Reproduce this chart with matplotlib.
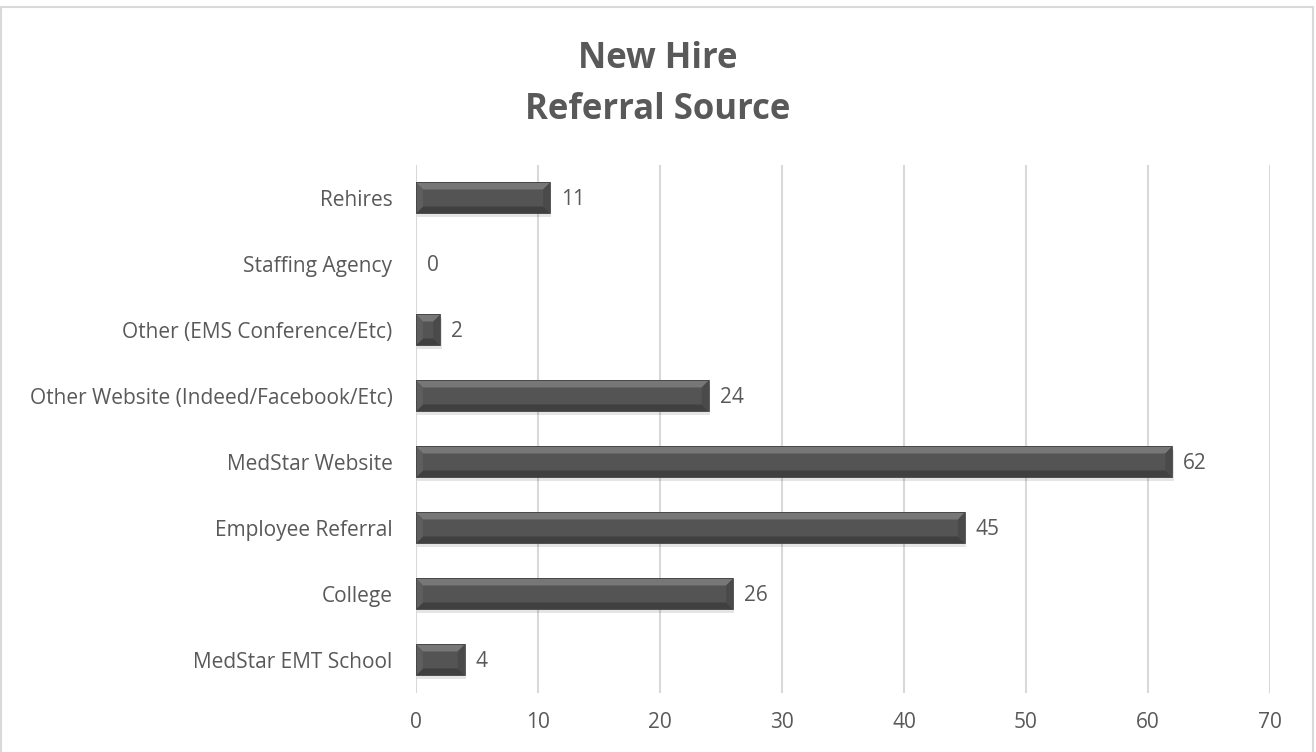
import matplotlib
matplotlib.use("Agg")
import matplotlib.pyplot as plt
from matplotlib.patches import Polygon, Rectangle
import numpy as np

# referral sources, bottom to top
sources = ["MedStar EMT School", "College", "Employee Referral", "MedStar Website",
           "Other Website (Indeed/Facebook/Etc)", "Other (EMS Conference/Etc)",
           "Staffing Agency", "Rehires"]
hires = [4, 26, 45, 62, 24, 2, 0, 11]
xticks = [0, 10, 20, 30, 40, 50, 60, 70]

text_color = "#595959"
plt.rcParams["font.family"] = ["Open Sans", "DejaVu Sans"]

fig = plt.figure(figsize=(13.16, 7.52), dpi=100)
ax = fig.add_axes([0.3161, 0.0785, 0.6489, 0.7021])

ypos = np.arange(len(sources))
bar_h = 0.47
bars = ax.barh(ypos, hires, height=bar_h, color="#545454", zorder=3)

ax.set_xlim(0, 70)
ax.set_ylim(-0.5, len(sources) - 0.5)

# bevel size in data units (~7 px)
bx = 7 / (0.6489 * 1316) * 70
by = 7 / (0.7021 * 752) * len(sources)
sy = 4 / (0.7021 * 752) * len(sources)
for b in bars:
    x0, y0 = b.get_x(), b.get_y()
    w, h = b.get_width(), b.get_height()
    if w <= 0:
        continue
    x1, y1 = x0 + w, y0 + h
    ex = min(bx, w / 2)
    # soft shadow below the bar
    ax.add_patch(Rectangle((x0 + 0.1, y0 - sy), w, h, color="#000000", alpha=0.10,
                           lw=0, zorder=2))
    # y1 is the top edge, y0 the bottom edge
    top = Polygon([(x0, y1), (x1, y1), (x1 - ex, y1 - by), (x0 + ex, y1 - by)],
                  closed=True, color="#777777", lw=0, zorder=4)
    bottom = Polygon([(x0, y0), (x1, y0), (x1 - ex, y0 + by), (x0 + ex, y0 + by)],
                     closed=True, color="#404040", lw=0, zorder=4)
    left = Polygon([(x0, y1), (x0 + ex, y1 - by), (x0 + ex, y0 + by), (x0, y0)],
                   closed=True, color="#5e5e5e", lw=0, zorder=4)
    right = Polygon([(x1, y1), (x1 - ex, y1 - by), (x1 - ex, y0 + by), (x1, y0)],
                    closed=True, color="#4a4a4a", lw=0, zorder=4)
    for p in (top, bottom, left, right):
        ax.add_patch(p)
    ax.add_patch(Rectangle((x0, y0), w, h, fill=False, ec="#444444", lw=0.6, zorder=5))

for y, v in zip(ypos, hires):
    ax.text(v + 0.9, y - 0.03, str(v), va="center", ha="left", fontsize=15,
            color=text_color)

ax.set_yticks(ypos)
ax.set_yticklabels(sources)
ax.set_xticks(xticks)
ax.tick_params(axis="y", length=0, pad=17, labelsize=15, labelcolor=text_color)
ax.tick_params(axis="x", length=0, pad=14, labelsize=15, labelcolor=text_color)
ax.grid(axis="x", color="#d9d9d9", lw=1.5, zorder=0)
ax.set_axisbelow(True)
for s in ax.spines.values():
    s.set_visible(False)

fig.text(0.5, 0.922, "New Hire", ha="center", va="center", fontsize=25,
         fontweight="bold", color=text_color)
fig.text(0.5, 0.854, "Referral Source", ha="center", va="center", fontsize=25,
         fontweight="bold", color=text_color)

# chart border
fig.patches.append(Rectangle((1 / 1316, -0.01), 1312 / 1316, 1 - 7 / 752 + 0.01,
                             transform=fig.transFigure, fill=False, ec="#d9d9d9",
                             lw=1.5))

fig.savefig("out.png", dpi=100)
